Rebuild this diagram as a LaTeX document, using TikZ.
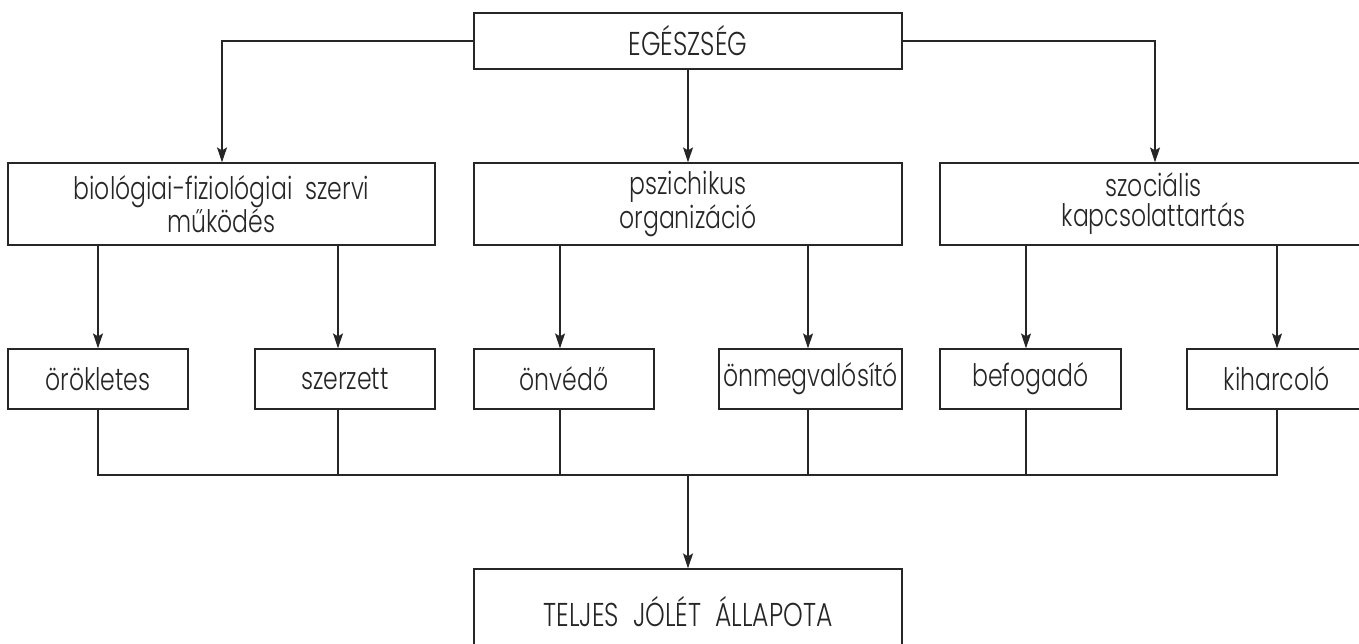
\documentclass[tikz,border=0pt]{standalone}
\usepackage{fontspec}
\setmainfont{Poppins Light}[FakeStretch=0.76]
\usetikzlibrary{arrows.meta}
\definecolor{ink}{gray}{0.15}
\tikzset{
  box/.style={draw=ink, line width=1.2pt, inner sep=0pt, align=center, text=ink,
    font=\fontsize{31}{30}\selectfont},
  capsbox/.style={box, font=\fontsize{33}{30}\selectfont},
  ln/.style={draw=ink, line width=1.2pt},
  arr/.style={ln, -{Stealth[length=15pt,width=10pt,inset=3pt]}},
}
\begin{document}
\begin{tikzpicture}[x=1pt,y=-1pt]
\useasboundingbox (0,0) rectangle (1359,644);
% top
\node[capsbox, minimum width=428pt, minimum height=56pt] (top) at (688,41) {EGÉSZSÉG};
% level 2
\node[box, minimum width=427pt, minimum height=82pt] (b1) at (221.5,204) {biológiai-fiziológiai\ \ szervi\\működés};
\node[box, minimum width=428pt, minimum height=82pt] (b2) at (688,204) {pszichikus\\organizáció};
\node[box, minimum width=427pt, minimum height=82pt] (b3) at (1153.5,204) {szociális\\kapcsolattartás};
% level 3
\node[box, minimum width=180pt, minimum height=60pt] (c1) at (98,379) {örökletes};
\node[box, minimum width=180pt, minimum height=60pt] (c2) at (345,379) {szerzett};
\node[box, minimum width=180pt, minimum height=60pt] (c3) at (564,379) {önvédő};
\node[box, minimum width=183pt, minimum height=60pt] (c4) at (810.5,379) {önmegvalósító};
\node[box, minimum width=181pt, minimum height=60pt] (c5) at (1030.5,379) {befogadó};
\node[box, minimum width=180pt, minimum height=60pt] (c6) at (1277,379) {kiharcoló};
% bottom
\node[capsbox, minimum width=428pt, minimum height=86pt] (bot) at (688,612) {TELJES\ \ JÓLÉT\ \ ÁLLAPOTA};
% connectors from top
\draw[arr] (top.west) -| ([xshift=0.5pt]b1.north);
\draw[arr] (top.south) -- (b2.north);
\draw[arr] (top.east) -| ([xshift=1.5pt]b3.north);
% level 2 -> level 3
\draw[arr] (c1.north |- b1.south) -- (c1.north);
\draw[arr] ([xshift=-7pt]c2.north |- b1.south) -- ([xshift=-7pt]c2.north);
\draw[arr] ([xshift=-4pt]c3.north |- b2.south) -- ([xshift=-4pt]c3.north);
\draw[arr] ([xshift=-2.5pt]c4.north |- b2.south) -- ([xshift=-2.5pt]c4.north);
\draw[arr] ([xshift=-4.5pt]c5.north |- b3.south) -- ([xshift=-4.5pt]c5.north);
\draw[arr] (c6.north |- b3.south) -- (c6.north);
% bus
\coordinate (bus) at (688,475);
\draw[ln] (c1.south) -- (c1.south |- bus) -- (c6.south |- bus) -- (c6.south);
\draw[ln] ([xshift=-7pt]c2.south) -- ([xshift=-7pt]c2.south |- bus);
\draw[ln] ([xshift=-4pt]c3.south) -- ([xshift=-4pt]c3.south |- bus);
\draw[ln] ([xshift=-2.5pt]c4.south) -- ([xshift=-2.5pt]c4.south |- bus);
\draw[ln] ([xshift=-4.5pt]c5.south) -- ([xshift=-4.5pt]c5.south |- bus);
\draw[arr] (bus) -- (bot.north);
\end{tikzpicture}
\end{document}
